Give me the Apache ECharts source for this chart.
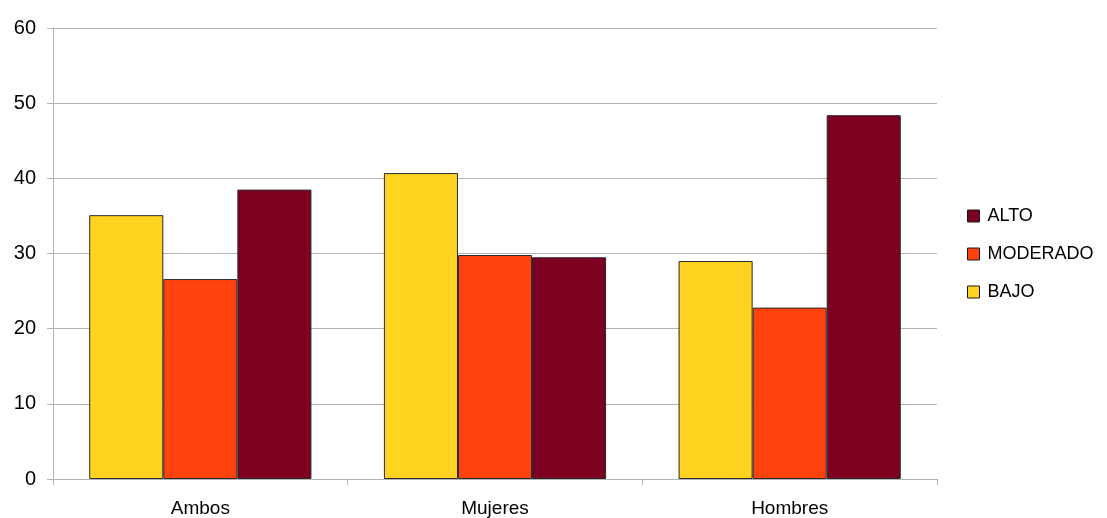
<!DOCTYPE html>
<html>
<head>
<meta charset="utf-8">
<script src="https://cdn.jsdelivr.net/npm/echarts@6/dist/echarts.min.js"></script>
<style>
  html, body { margin: 0; padding: 0; background: #ffffff; }
  #chart { width: 1107px; height: 518px; }
</style>
</head>
<body>
<div id="chart"></div>
<script>
// Categories and values per activity level
const categories = ['Ambos', 'Mujeres', 'Hombres'];
const bajo = [35.1, 40.7, 29.0];
const moderado = [26.6, 29.8, 22.8];
const alto = [38.5, 29.5, 48.4];
const legendOrder = ['ALTO', 'MODERADO', 'BAJO'];

const FONT = '"Liberation Sans", Arial, sans-serif';
const GRID_COLOR = '#b3b3b3';

function barSeries(name, data, color) {
  return {
    name: name,
    type: 'bar',
    data: data,
    barGap: '0%',
    barCategoryGap: '24.6%',
    itemStyle: { color: color, borderColor: '#2a2a2a', borderWidth: 1 },
    emphasis: { disabled: true }
  };
}

const chart = echarts.init(document.getElementById('chart'), null, { renderer: 'canvas' });
chart.setOption({
  animation: false,
  backgroundColor: '#ffffff',
  textStyle: { fontFamily: FONT },
  grid: { left: 53, top: 28, right: 170, bottom: 39, containLabel: false },
  legend: {
    data: legendOrder,
    orient: 'vertical',
    left: 967,
    top: 207,
    padding: 0,
    itemWidth: 12,
    itemHeight: 12,
    itemGap: 20,
    icon: 'rect',
    itemStyle: { borderColor: '#1a1a1a', borderWidth: 1 },
    textStyle: { fontFamily: FONT, fontSize: 18, color: '#000000', padding: [0, 0, 0, 3] },
    selectedMode: false
  },
  xAxis: {
    type: 'category',
    data: categories,
    axisLine: { show: true, lineStyle: { color: GRID_COLOR, width: 1 } },
    axisTick: { show: true, length: 6, inside: false, lineStyle: { color: GRID_COLOR } },
    axisLabel: { fontFamily: FONT, fontSize: 19, color: '#000000', margin: 20 },
    splitLine: { show: false }
  },
  yAxis: {
    type: 'value',
    min: 0,
    max: 60,
    interval: 10,
    axisLine: { show: true, lineStyle: { color: GRID_COLOR, width: 1 } },
    axisTick: { show: true, length: 6, lineStyle: { color: GRID_COLOR } },
    axisLabel: { fontFamily: FONT, fontSize: 20, color: '#000000', margin: 17 },
    splitLine: { show: true, lineStyle: { color: GRID_COLOR, width: 1 } }
  },
  series: [
    barSeries('BAJO', bajo, '#ffd320'),
    barSeries('MODERADO', moderado, '#ff420e'),
    barSeries('ALTO', alto, '#7e0021')
  ]
});
</script>
</body>
</html>
